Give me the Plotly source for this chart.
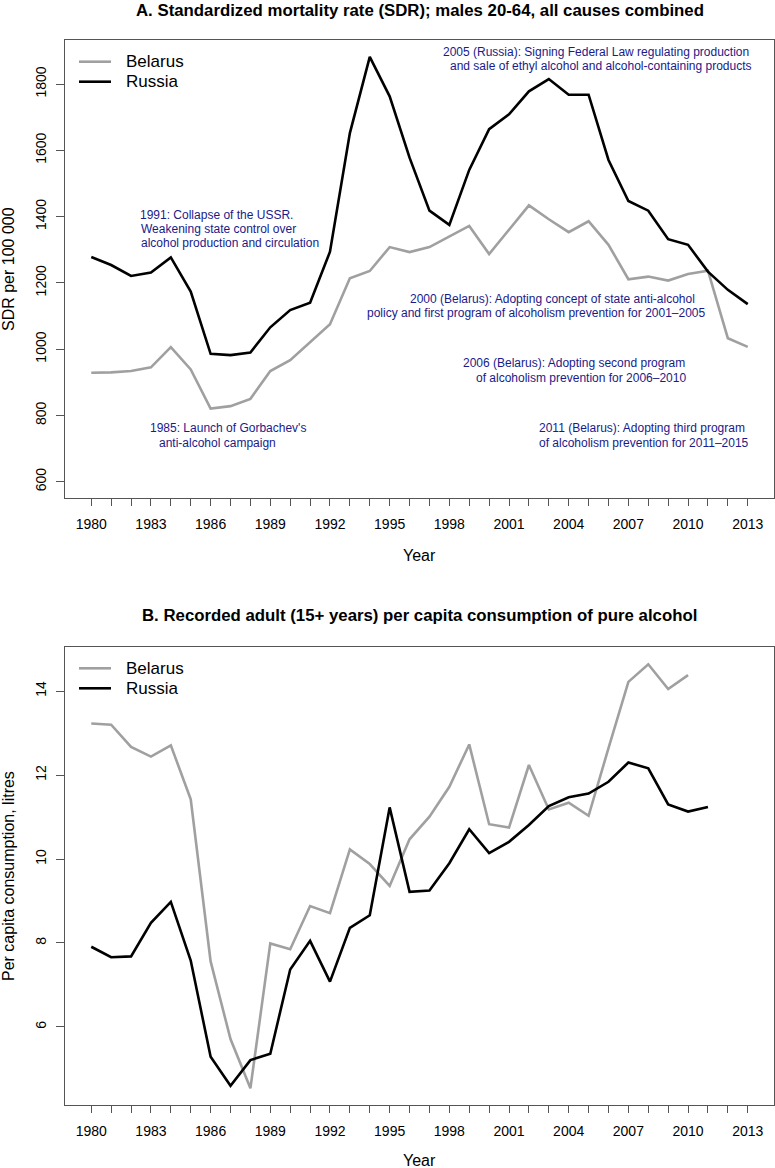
import plotly.graph_objects as go

# ---- data ----
years = list(range(1980, 2014))

sdr_belarus = [929, 930, 934, 945, 1006, 939, 821, 828, 850, 934,
               967, 1020, 1075, 1214, 1236, 1308, 1293, 1308, 1340, 1372,
               1287, 1360, 1434, 1392, 1353, 1386, 1315, 1211, 1219, 1207,
               1227, 1237, 1033, 1007]
sdr_russia = [1278, 1254, 1221, 1231, 1277, 1174, 986, 982, 990, 1066,
              1118, 1140, 1294, 1652, 1882, 1763, 1578, 1418, 1375, 1541,
              1664, 1709, 1778, 1815, 1768, 1768, 1571, 1447, 1418, 1332,
              1315, 1234, 1179, 1136]

alc_years_by = list(range(1980, 2011))
alc_belarus = [13.23, 13.20, 12.67, 12.44, 12.71, 11.42, 7.56, 5.71, 4.54, 7.99,
               7.85, 8.88, 8.71, 10.23, 9.88, 9.36, 10.47, 11.01, 11.72, 12.73,
               10.83, 10.75, 12.24, 11.18, 11.34, 11.03, 12.64, 14.22, 14.64, 14.05,
               14.38]
alc_years_ru = list(range(1980, 2012))
alc_russia = [7.91, 7.66, 7.68, 8.48, 8.98, 7.58, 5.29, 4.60, 5.21, 5.36,
              7.37, 8.05, 7.08, 8.36, 8.66, 11.23, 9.22, 9.25, 9.90, 10.71,
              10.14, 10.41, 10.81, 11.26, 11.47, 11.56, 11.84, 12.30, 12.16, 11.30,
              11.13, 11.24]

tick_years = years
tick_text = [str(y) if (y - 1980) % 3 == 0 else "" for y in years]

# annotations for panel A: (text, x year, y value, anchor)
events = [
    ("1991: Collapse of the USSR.", 1982.35, 1405, "left"),
    ("Weakening state control over", 1982.42, 1362, "left"),
    ("alcohol production and circulation", 1982.42, 1319, "left"),
    ("1985: Launch of Gorbachev's", 1982.85, 761, "left"),
    ("anti-alcohol campaign", 1983.30, 717, "left"),
    ("2005 (Russia): Signing Federal Law regulating production", 2013.15, 1898, "right"),
    ("and sale of ethyl alcohol and alcohol-containing products", 2013.32, 1856, "right"),
    ("2000 (Belarus): Adopting concept of state anti-alcohol", 1995.90, 1152, "left"),
    ("policy and first program of alcoholism prevention for 2001–2005", 1993.75, 1108, "left"),
    ("2006 (Belarus): Adopting second program", 2009.94, 957, "right"),
    ("of alcoholism prevention for 2006–2010", 2009.99, 912, "right"),
    ("2011 (Belarus): Adopting third program", 2002.41, 763, "left"),
    ("of alcoholism prevention for 2011–2015", 2002.41, 717, "left"),
]

FONT = "Liberation Sans, Arial, sans-serif"
GREY = "#a0a0a0"
AXC = "#555555"
W, H = 775, 1168
ML, MR, MT, MB = 65, 1, 40, 63

fig = go.Figure()
fig.add_trace(go.Scatter(x=years, y=sdr_belarus, mode="lines", name="Belarus",
                         line=dict(color=GREY, width=2.6), xaxis="x", yaxis="y"))
fig.add_trace(go.Scatter(x=years, y=sdr_russia, mode="lines", name="Russia",
                         line=dict(color="black", width=2.6), xaxis="x", yaxis="y"))
fig.add_trace(go.Scatter(x=alc_years_by, y=alc_belarus, mode="lines", name="Belarus",
                         line=dict(color=GREY, width=2.6), xaxis="x2", yaxis="y2"))
fig.add_trace(go.Scatter(x=alc_years_ru, y=alc_russia, mode="lines", name="Russia",
                         line=dict(color="black", width=2.6), xaxis="x2", yaxis="y2"))

xcommon = dict(range=[1978.68, 2014.32], tickmode="array", tickvals=tick_years, ticktext=tick_text,
               ticks="outside", ticklen=7, tickcolor=AXC, showline=True, linecolor=AXC, mirror=True,
               showgrid=False, zeroline=False, tickfont=dict(size=14, color="black"),
               ticklabelstandoff=6)
ycommon = dict(ticks="outside", ticklen=8, tickcolor=AXC, showline=True, linecolor=AXC, mirror=True,
               showgrid=False, zeroline=False, tickangle=-90, tickfont=dict(size=14, color="black"),
               ticklabelstandoff=4)

fig.update_layout(
    width=W, height=H,
    margin=dict(l=ML, r=MR, t=MT, b=MB),
    paper_bgcolor="white", plot_bgcolor="white",
    font=dict(family=FONT, color="black"),
    xaxis=dict(domain=[0, 1], anchor="y", **xcommon),
    yaxis=dict(domain=[0.57, 1], anchor="x", range=[551, 1933],
               tickvals=[600, 800, 1000, 1200, 1400, 1600, 1800], **ycommon),
    xaxis2=dict(domain=[0, 1], anchor="y2", **xcommon),
    yaxis2=dict(domain=[0, 0.43], anchor="x2", range=[4.14, 15.05],
                tickvals=[6, 8, 10, 12, 14], **ycommon),
    showlegend=False,
)


def px_x(p):
    return (p - ML) / (W - ML - MR)


def px_y(p):
    return (H - MB - p) / (H - MT - MB)


# hand-drawn legends (R style), one per panel
for top in (61.7, 668.3):
    for i, (name, col) in enumerate([("Belarus", GREY), ("Russia", "black")]):
        yy = top + 20 * i
        fig.add_shape(type="line", xref="paper", yref="paper",
                      x0=px_x(79), x1=px_x(111), y0=px_y(yy), y1=px_y(yy),
                      line=dict(color=col, width=2.6))
        fig.add_annotation(x=px_x(124), y=px_y(yy), xref="paper", yref="paper",
                           text=name, showarrow=False, xanchor="left", yanchor="middle",
                           font=dict(size=17))

for text, xv, yv, anchor in events:
    fig.add_annotation(x=xv, y=yv, xref="x", yref="y", text=text, showarrow=False,
                       xanchor=anchor, yanchor="middle",
                       font=dict(size=12, color="#1a1a8a"))

# panel titles
fig.add_annotation(x=0.5, y=px_y(10), xref="paper", yref="paper", showarrow=False,
                   text="<b>A. Standardized mortality rate (SDR); males 20-64, all causes combined</b>",
                   font=dict(size=16.8), xanchor="center", yanchor="middle")
fig.add_annotation(x=0.5, y=px_y(615), xref="paper", yref="paper", showarrow=False,
                   text="<b>B. Recorded adult (15+ years) per capita consumption of pure alcohol</b>",
                   font=dict(size=16.8), xanchor="center", yanchor="middle")

# axis titles
fig.add_annotation(x=px_x(8), y=px_y(269), xref="paper", yref="paper", showarrow=False,
                   text="SDR per 100 000", textangle=-90, font=dict(size=16),
                   xanchor="center", yanchor="middle")
fig.add_annotation(x=px_x(8), y=px_y(876), xref="paper", yref="paper", showarrow=False,
                   text="Per capita consumption, litres", textangle=-90, font=dict(size=16),
                   xanchor="center", yanchor="middle")
fig.add_annotation(x=px_x(419), y=px_y(555), xref="paper", yref="paper", showarrow=False,
                   text="Year", font=dict(size=16), xanchor="center", yanchor="middle")
fig.add_annotation(x=px_x(419), y=px_y(1160), xref="paper", yref="paper", showarrow=False,
                   text="Year", font=dict(size=16), xanchor="center", yanchor="middle")

fig.write_html("out.html", config={"displayModeBar": False},
               post_script="document.body.style.margin='0';")
